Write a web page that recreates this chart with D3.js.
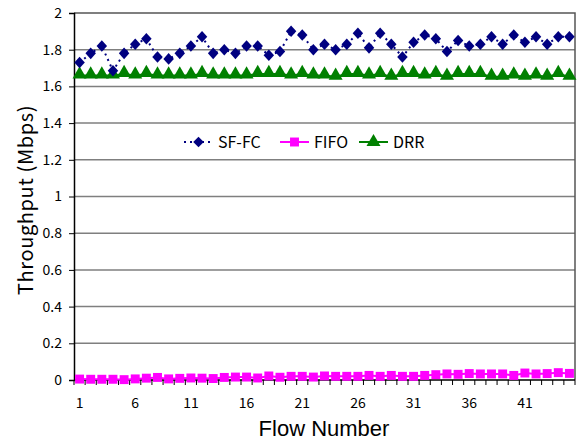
<!DOCTYPE html>
<html>
<head>
<meta charset="utf-8">
<script src="https://cdn.jsdelivr.net/npm/d3@7"></script>
<style>
    body { margin: 0; background: #fff; }
    svg text { font-family: "Noto Sans CJK JP", "DejaVu Sans", sans-serif; fill: #000; }
</style>
</head>
<body>
<div id="chart"></div>
<script>
// flows 1..45
var flows = d3.range(1, 46);
var xTickLabels = [1, 6, 11, 16, 21, 26, 31, 36, 41];
var yTicks = [0, 0.2, 0.4, 0.6, 0.8, 1, 1.2, 1.4, 1.6, 1.8, 2];

var sffc = [1.73, 1.78, 1.82, 1.685, 1.78, 1.83, 1.86, 1.76, 1.75, 1.78,
    1.82, 1.87, 1.78, 1.80, 1.78, 1.82, 1.82, 1.77, 1.79, 1.90,
    1.88, 1.80, 1.83, 1.80, 1.83, 1.89, 1.81, 1.89, 1.83, 1.76,
    1.84, 1.88, 1.86, 1.79, 1.85, 1.82, 1.83, 1.87, 1.83, 1.88,
    1.84, 1.87, 1.83, 1.87, 1.87];
var fifo = [0.005, 0.004, 0.004, 0.004, 0.002, 0.006, 0.010, 0.014, 0.006, 0.009,
    0.011, 0.010, 0.008, 0.014, 0.016, 0.016, 0.011, 0.022, 0.015, 0.020,
    0.020, 0.016, 0.022, 0.020, 0.020, 0.020, 0.025, 0.020, 0.025, 0.020,
    0.020, 0.025, 0.029, 0.033, 0.031, 0.035, 0.033, 0.033, 0.033, 0.025,
    0.038, 0.033, 0.035, 0.040, 0.036];
var drr = [1.66, 1.66, 1.66, 1.66, 1.668, 1.66, 1.668, 1.66, 1.66, 1.66,
    1.66, 1.668, 1.66, 1.66, 1.66, 1.66, 1.668, 1.668, 1.668, 1.66,
    1.668, 1.66, 1.66, 1.653, 1.668, 1.668, 1.66, 1.668, 1.653, 1.668,
    1.668, 1.66, 1.668, 1.653, 1.668, 1.668, 1.668, 1.653, 1.653, 1.66,
    1.653, 1.66, 1.653, 1.668, 1.653];

var width = 578, height = 441;
var plot = { left: 74, right: 575, top: 13, bottom: 380 };

var svg = d3.select('#chart')
    .append('svg')
    .attr('width', width)
    .attr('height', height);

var x = d3.scaleBand()
    .domain(flows)
    .range([plot.left, plot.right])
    .padding(0);

var y = d3.scaleLinear()
    .domain([0, 2])
    .range([plot.bottom, plot.top]);

function cx(i) {
    return x(flows[i]) + x.bandwidth() / 2;
}

// gridlines
svg.append('g')
    .selectAll('line')
    .data(yTicks.filter(function (d) { return d > 0 && d < 2; }))
    .enter()
    .append('line')
    .attr('x1', plot.left)
    .attr('x2', plot.right)
    .attr('y1', function (d) { return y(d); })
    .attr('y2', function (d) { return y(d); })
    .style('stroke', '#7f7f7f')
    .style('stroke-width', 1.5);

// plot frame (top and right)
svg.append('path')
    .attr('d', 'M' + plot.left + ',' + y(2) + 'H' + plot.right + 'V' + plot.bottom)
    .style('fill', 'none')
    .style('stroke', '#555')
    .style('stroke-width', 1.5);

// y axis
var yAxis = d3.axisLeft(y)
    .tickValues(yTicks)
    .tickSize(5)
    .tickPadding(7)
    .tickFormat(function (d) { return d3.format('')(+d.toFixed(1)); });

var gy = svg.append('g')
    .attr('transform', 'translate(' + plot.left + ',0)')
    .call(yAxis);
gy.select('.domain').style('stroke', '#000').style('stroke-width', 1.5);
gy.selectAll('.tick line').style('stroke', '#000');
gy.selectAll('.tick text').style('font-size', '14px');

// x axis: ticks between categories, labels every 5 flows
svg.append('line')
    .attr('x1', plot.left)
    .attr('x2', plot.right)
    .attr('y1', plot.bottom)
    .attr('y2', plot.bottom)
    .style('stroke', '#000')
    .style('stroke-width', 1.5);

svg.append('g')
    .selectAll('line')
    .data(flows.concat([46]))
    .enter()
    .append('line')
    .attr('x1', function (d) { return d <= 45 ? x(d) : plot.right; })
    .attr('x2', function (d) { return d <= 45 ? x(d) : plot.right; })
    .attr('y1', plot.bottom)
    .attr('y2', plot.bottom + 5)
    .style('stroke', '#000');

svg.append('g')
    .selectAll('text')
    .data(xTickLabels)
    .enter()
    .append('text')
    .attr('x', function (d) { return x(d) + x.bandwidth() / 2; })
    .attr('y', 408)
    .attr('text-anchor', 'middle')
    .style('font-size', '14px')
    .text(function (d) { return d; });

// axis titles
svg.append('text')
    .attr('transform', 'translate(33,200) rotate(-90)')
    .attr('text-anchor', 'middle')
    .style('font-size', '20px')
    .style('letter-spacing', '0.6px')
    .text('Throughput (Mbps)');

svg.append('text')
    .attr('x', 324)
    .attr('y', 436)
    .attr('text-anchor', 'middle')
    .style('font-family', '"Liberation Sans", sans-serif')
    .style('font-size', '22px')
    .text('Flow Number');

// series
var line = d3.line()
    .x(function (d, i) { return cx(i); })
    .y(function (d) { return y(d); });

svg.append('path')
    .datum(fifo)
    .attr('d', line)
    .style('fill', 'none')
    .style('stroke', '#ff00ff')
    .style('stroke-width', 2);

svg.append('path')
    .datum(drr)
    .attr('d', line)
    .style('fill', 'none')
    .style('stroke', '#008000')
    .style('stroke-width', 2);

svg.append('path')
    .datum(sffc)
    .attr('d', line)
    .style('fill', 'none')
    .style('stroke', '#000080')
    .style('stroke-width', 2)
    .style('stroke-dasharray', '2,4');

var diamond = d3.symbol().type(d3.symbolDiamond2).size(70);
var square = d3.symbol().type(d3.symbolSquare).size(80);
var triangle = d3.symbol().type(d3.symbolTriangle).size(85);

svg.append('g')
    .selectAll('path')
    .data(fifo)
    .enter()
    .append('path')
    .attr('d', square)
    .attr('transform', function (d, i) { return 'translate(' + cx(i) + ',' + y(d) + ')'; })
    .style('fill', '#ff00ff');

svg.append('g')
    .selectAll('path')
    .data(drr)
    .enter()
    .append('path')
    .attr('d', triangle)
    .attr('transform', function (d, i) { return 'translate(' + cx(i) + ',' + (y(d) - 1) + ')'; })
    .style('fill', '#008000');

svg.append('g')
    .selectAll('path')
    .data(sffc)
    .enter()
    .append('path')
    .attr('d', diamond)
    .attr('transform', function (d, i) { return 'translate(' + cx(i) + ',' + y(d) + ') scale(1,1.1)'; })
    .style('fill', '#000080');

// legend
var legendItems = [
    { name: 'SF-FC', color: '#000080', x: 184, dash: '2,4', symbol: diamond },
    { name: 'FIFO', color: '#ff00ff', x: 280, dash: null, symbol: square },
    { name: 'DRR', color: '#008000', x: 359, dash: null, symbol: triangle }
];

var legend = svg.append('g')
    .selectAll('g')
    .data(legendItems)
    .enter()
    .append('g')
    .attr('transform', function (d) { return 'translate(' + d.x + ',142)'; });

legend.append('line')
    .attr('x1', 0)
    .attr('x2', 29)
    .style('stroke', function (d) { return d.color; })
    .style('stroke-width', 2)
    .style('stroke-dasharray', function (d) { return d.dash; });

legend.append('path')
    .attr('d', function (d) { return d.symbol(); })
    .attr('transform', 'translate(14.5,0)')
    .style('fill', function (d) { return d.color; });

legend.append('text')
    .attr('x', 34)
    .attr('y', 6)
    .style('font-size', '16px')
    .text(function (d) { return d.name; });
</script>
</body>
</html>
